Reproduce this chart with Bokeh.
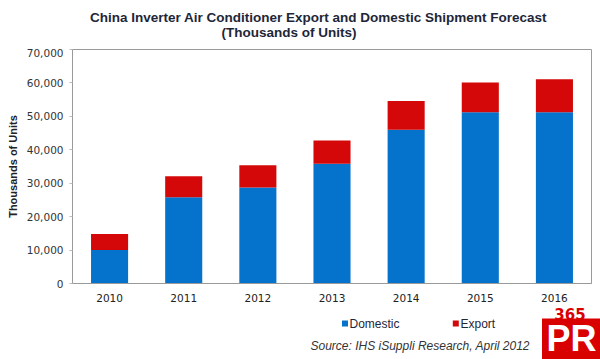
from bokeh.plotting import figure
from bokeh.layouts import column
from bokeh.models import (FactorRange, Range1d, NumeralTickFormatter, FixedTicker,
                          Label, ColumnDataSource, BoxAnnotation)
from bokeh.embed import file_html
from bokeh.resources import INLINE

years = ["2010", "2011", "2012", "2013", "2014", "2015", "2016"]
domestic = [10000, 25800, 28700, 35800, 46000, 51200, 51200]
export = [4800, 6300, 6700, 7000, 8600, 8900, 9900]
y_ticks = [0, 10000, 20000, 30000, 40000, 50000, 60000, 70000]

BLUE = "#0572CC"
RED = "#D40808"
NAVY = "#1e2638"
W = 600


def blank(h):
    f = figure(width=W, height=h, x_range=Range1d(0, W), y_range=Range1d(0, h),
               output_backend="svg", toolbar_location=None,
               x_axis_location=None, y_axis_location=None,
               min_border=0, min_border_left=0, min_border_right=0,
               min_border_top=0, min_border_bottom=0, frame_align=False)
    f.outline_line_color = None
    f.xgrid.visible = False
    f.ygrid.visible = False
    f.background_fill_color = "white"
    f.border_fill_color = "white"
    return f


def lab(fig, x, y, text, **kw):
    fig.add_layout(Label(x=x, y=y, x_units="screen", y_units="screen", text=text, **kw))


def box(fig, l, r, b, t, color):
    fig.add_layout(BoxAnnotation(left=l, right=r, bottom=b, top=t,
                                 left_units="screen", right_units="screen",
                                 bottom_units="screen", top_units="screen",
                                 fill_color=color, fill_alpha=1, line_color=None))


# ---- header ----
top = blank(48)
lab(top, 318, 31, "China Inverter Air Conditioner Export and Domestic Shipment Forecast",
    text_font="Liberation Sans", text_font_style="bold", text_font_size="13.5px",
    text_color=NAVY, text_align="center", text_baseline="middle")
lab(top, 288.5, 16, "(Thousands of Units)",
    text_font="Liberation Sans", text_font_style="bold", text_font_size="13.5px",
    text_color=NAVY, text_align="center", text_baseline="middle")

# ---- main chart ----
src = ColumnDataSource(dict(year=years, Domestic=domestic, Export=export))

p = figure(width=W, height=256, x_range=FactorRange(*years), y_range=Range1d(0, 70000),
           output_backend="svg", toolbar_location=None, frame_align=False,
           min_border_left=72, min_border_right=9, min_border_top=1, min_border_bottom=21)
p.background_fill_color = "white"
p.border_fill_color = "white"
p.outline_line_color = "#9a9a9a"
p.outline_line_width = 1

rs = p.vbar_stack(["Domestic", "Export"], x="year", width=0.5, source=src,
                  color=[BLUE, RED], line_color=None)

p.xgrid.visible = False
p.ygrid.visible = False
p.x_range.range_padding = 0

ya = p.yaxis[0]
ya.ticker = FixedTicker(ticks=y_ticks)
ya.formatter = NumeralTickFormatter(format="0,0")
ya.major_label_text_font = "DejaVu Sans"
ya.major_label_text_font_size = "10.5px"
ya.major_label_text_color = "#333333"
ya.axis_line_color = "#9a9a9a"
ya.major_tick_line_color = "#bbbbbb"
ya.major_tick_out = 3
ya.major_tick_in = 0
ya.minor_tick_line_color = None
ya.major_label_standoff = 6
ya.axis_label = "Thousands of Units"
ya.axis_label_text_font = "Liberation Sans"
ya.axis_label_text_font_style = "bold"
ya.axis_label_text_font_size = "11px"
ya.axis_label_text_color = "#222222"
ya.axis_label_standoff = 5

xa = p.xaxis[0]
xa.major_label_text_font = "DejaVu Sans"
xa.major_label_text_font_size = "10.5px"
xa.major_label_text_color = "#222222"
xa.axis_line_color = "#9a9a9a"
xa.major_tick_line_color = None
xa.major_label_standoff = 4

# ---- footer: legend, source, logo ----
bot = blank(55)
# legend keys and labels
box(bot, 341.5, 347.5, 33, 39, BLUE)
lab(bot, 349, 36, "Domestic", text_font="Liberation Sans", text_font_size="12px",
    text_color=NAVY, text_align="left", text_baseline="middle")
box(bot, 452.3, 458.3, 33, 39, RED)
lab(bot, 460, 36, "Export", text_font="Liberation Sans", text_font_size="12px",
    text_color=NAVY, text_align="left", text_baseline="middle")

lab(bot, 310, 14, "Source: IHS iSuppli Research, April 2012",
    text_font="Liberation Sans", text_font_style="italic", text_font_size="12px",
    text_color="#333333", text_align="left", text_baseline="middle")

# logo
box(bot, 541.5, 600, 0, 41, "#D90000")
lab(bot, 546, 21, "PR", text_font="Liberation Sans", text_font_style="bold",
    text_font_size="36px", text_color="white", text_align="left",
    text_baseline="middle")
lab(bot, 569.5, 45.5, "365", text_font="DejaVu Sans", text_font_style="bold",
    text_font_size="15px", text_color="#D90000", text_align="center",
    text_baseline="middle")

layout = column(top, p, bot, spacing=0)
open("out.html", "w").write(file_html(layout, INLINE))
